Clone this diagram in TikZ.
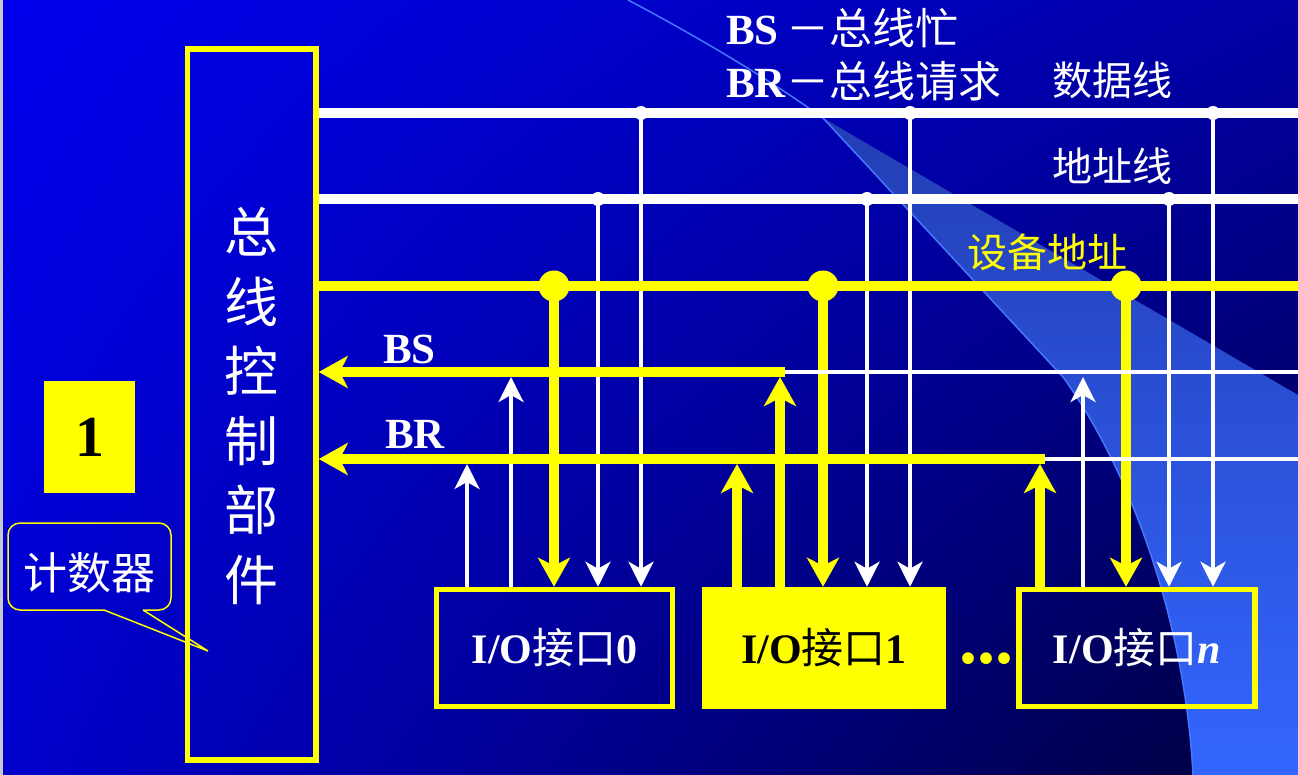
\documentclass[tikz,border=0pt]{standalone}
\usepackage{fontspec}
\setmainfont{Liberation Serif}
\newfontfamily\cjk{Noto Sans CJK SC}
\usetikzlibrary{arrows.meta,shadings}
\definecolor{ylw}{RGB}{255,255,0}
\definecolor{bgUL}{RGB}{0,0,238}
\definecolor{bgUR}{RGB}{0,0,165}
\definecolor{bgLL}{RGB}{0,0,205}
\definecolor{bgLR}{RGB}{0,0,60}
\definecolor{bandTop}{RGB}{35,62,180}
\definecolor{bandMid}{RGB}{51,102,255}
\definecolor{bandBot}{RGB}{51,102,255}
\definecolor{sweep}{RGB}{70,120,255}
\definecolor{edgegray}{RGB}{200,200,210}
\newcommand\ioText[1]{\textbf{I/O}{\cjk 接口}\textbf{#1}}
\tikzset{
  wbus/.style={draw=white, line width=10pt},
  ybus/.style={draw=ylw, line width=10pt},
  wsig/.style={draw=white, line width=4.5pt},
  wdrop/.style={draw=white, line width=4pt, -{Stealth[length=25pt,width=25pt,inset=7pt]}},
  ydrop/.style={draw=ylw, line width=10pt, -{Stealth[length=29pt,width=32pt,inset=8pt]}},
  ytoctrl/.style={draw=ylw, line width=10pt, -{Stealth[length=29pt,width=32pt,inset=8pt]}},
  upshort/.style={shorten >=5pt},
  iobox/.style={draw=ylw, line width=5.5pt, minimum width=236pt, minimum height=117pt, inner sep=0pt, font=\fontsize{42}{48}\selectfont},
  cn/.style={font=\cjk\fontsize{#1}{#1}\selectfont},
  wdot/.style={fill=white},
  ydot/.style={fill=ylw},
  bubble/.style={draw=ylw, line width=1.5pt},
}
\begin{document}
\begin{tikzpicture}[x=1pt,y=-1pt]
\useasboundingbox (0,0) rectangle (1298,775);
% background
\shade[upper left=bgUL, upper right=bgUR, lower left=bgLL, lower right=bgLR] (0,0) rectangle (1298,775);
\shade[top color=bandTop, middle color=bandMid, bottom color=bandBot] (823,118) -- (1298,395) -- (1298,775) -- (1193,775) .. controls (1185,620) and (1130,470) .. (1063,377) -- cycle;
\draw[sweep, line width=1.5pt] (628,0) .. controls (700,38) and (770,80) .. (823,118) -- (1063,377) .. controls (1130,470) and (1185,620) .. (1193,775);
\fill[edgegray] (0,0) rectangle (3,775);

% main nodes
\node[draw=ylw, line width=5.5pt, minimum width=128.6pt, minimum height=711.4pt, inner sep=0pt] (ctrl) at (251.7,404.5) {};
\node[text=white, align=center, inner sep=0pt, font=\cjk\fontsize{54}{69.6}\selectfont] (ctrlTxt) at (251.5,406) {总\\线\\控\\制\\部\\件};
\node[iobox, text=white] (io0) at (554.5,648) {\ioText{0}};
\node[iobox, fill=ylw, text=black, minimum width=238pt] (io1) at (824,648) {\ioText{1}};
\node[iobox, text=white] (ion) at (1137,648) {\ioText{\textit{n}}};

% junction coordinates
\coordinate (d0) at (641,113);  \coordinate (d1) at (910,113);  \coordinate (d2) at (1213,113);
\coordinate (a0) at (598,199);  \coordinate (a1) at (867,199);  \coordinate (a2) at (1169,199);
\coordinate (v0) at (554,286);  \coordinate (v1) at (823,286);  \coordinate (v2) at (1126,286);
\coordinate (s0) at (511,372);  \coordinate (s1) at (780,372);  \coordinate (s2) at (1083,372);
\coordinate (r0) at (467,459);  \coordinate (r1) at (737,459);  \coordinate (r2) at (1040,459);
\coordinate (dataR) at (1303,113); \coordinate (addrR) at (1303,199); \coordinate (devR) at (1303,286);
\coordinate (bsR) at (1303,372); \coordinate (brR) at (1303,459);

% vertical connections
\draw[wdrop] (d0) -- (d0 |- io0.north);
\draw[wdrop] (a0) -- (a0 |- io0.north);
\draw[ydrop] (v0) -- (v0 |- io0.north);
\draw[wdrop, upshort] (s0 |- io0.north) -- (s0);
\draw[wdrop, upshort] (r0 |- io0.north) -- (r0);

\draw[wdrop] (d1) -- (d1 |- io1.north);
\draw[wdrop] (a1) -- (a1 |- io1.north);
\draw[ydrop] (v1) -- (v1 |- io1.north);
\draw[ydrop, upshort] (s1 |- io1.north) -- (s1);
\draw[ydrop, upshort] (r1 |- io1.north) -- (r1);

\draw[wdrop] (d2) -- (d2 |- ion.north);
\draw[wdrop] (a2) -- (a2 |- ion.north);
\draw[ydrop] (v2) -- (v2 |- ion.north);
\draw[wdrop, upshort] (s2 |- ion.north) -- (s2);
\draw[ydrop, upshort] (r2 |- ion.north) -- (r2);

% horizontal buses
\draw[wbus] (ctrl.east |- dataR) -- (dataR);
\draw[wbus] (ctrl.east |- addrR) -- (addrR);
\draw[ybus] (ctrl.east |- devR) -- (devR);
\draw[wsig] (s1) -- (bsR);
\draw[wsig] (r2) -- (brR);
\draw[ytoctrl] ([xshift=4.5pt]s1) -- (ctrl.east |- s1);
\draw[ytoctrl] ([xshift=4.5pt]r2) -- (ctrl.east |- r2);

% junction dots
\foreach \p in {d0,d1,d2,a0,a1,a2} \fill[wdot] (\p) circle[radius=7pt];
\foreach \p in {v0,v1,v2} \fill[ydot] (\p) circle[radius=15.5pt];

% labels
\node[anchor=base west, inner sep=0pt, text=white, font=\fontsize{43}{43}\selectfont] (lbBS) at (726,45) {\textbf{BS}\hspace{8pt}{\cjk －总线忙}};
\node[anchor=base west, inner sep=0pt, text=white, font=\fontsize{43}{43}\selectfont] (lbBR) at (726,98) {\textbf{BR}{\cjk －总线请求}};
\node[anchor=west, inner sep=0pt, text=white, cn=40] (lbData) at (1052,80) {数据线};
\node[anchor=west, inner sep=0pt, text=white, cn=40] (lbAddr) at (1052,166) {地址线};
\node[anchor=west, inner sep=0pt, text=ylw, cn=40] (lbDev) at (967,252) {设备地址};
\node[anchor=base west, inner sep=0pt, text=white, font=\bfseries\fontsize{43}{43}\selectfont] (lblBS) at (383,363) {BS};
\node[anchor=base west, inner sep=0pt, text=white, font=\bfseries\fontsize{43}{43}\selectfont] (lblBR) at (385,448) {BR};
\node[anchor=base, inner sep=0pt, text=ylw, font=\bfseries\fontsize{72}{72}\selectfont] (dots) at (986.5,663) {...};

% yellow square "1"
\node[fill=ylw, minimum width=91pt, minimum height=112pt, inner sep=0pt, font=\bfseries\fontsize{58}{58}\selectfont] (one) at (89.5,437) {1};

% callout
\draw[bubble, rounded corners=12pt] (143,610) -- (171,610) -- (171,523) -- (8,523) -- (8,610) -- (104,610);
\draw[bubble] (104,610) -- (208,651) -- (143,610);
\node[text=white, inner sep=0pt, cn=44] (cnt) at (89.5,573) {计数器};
\end{tikzpicture}
\end{document}
